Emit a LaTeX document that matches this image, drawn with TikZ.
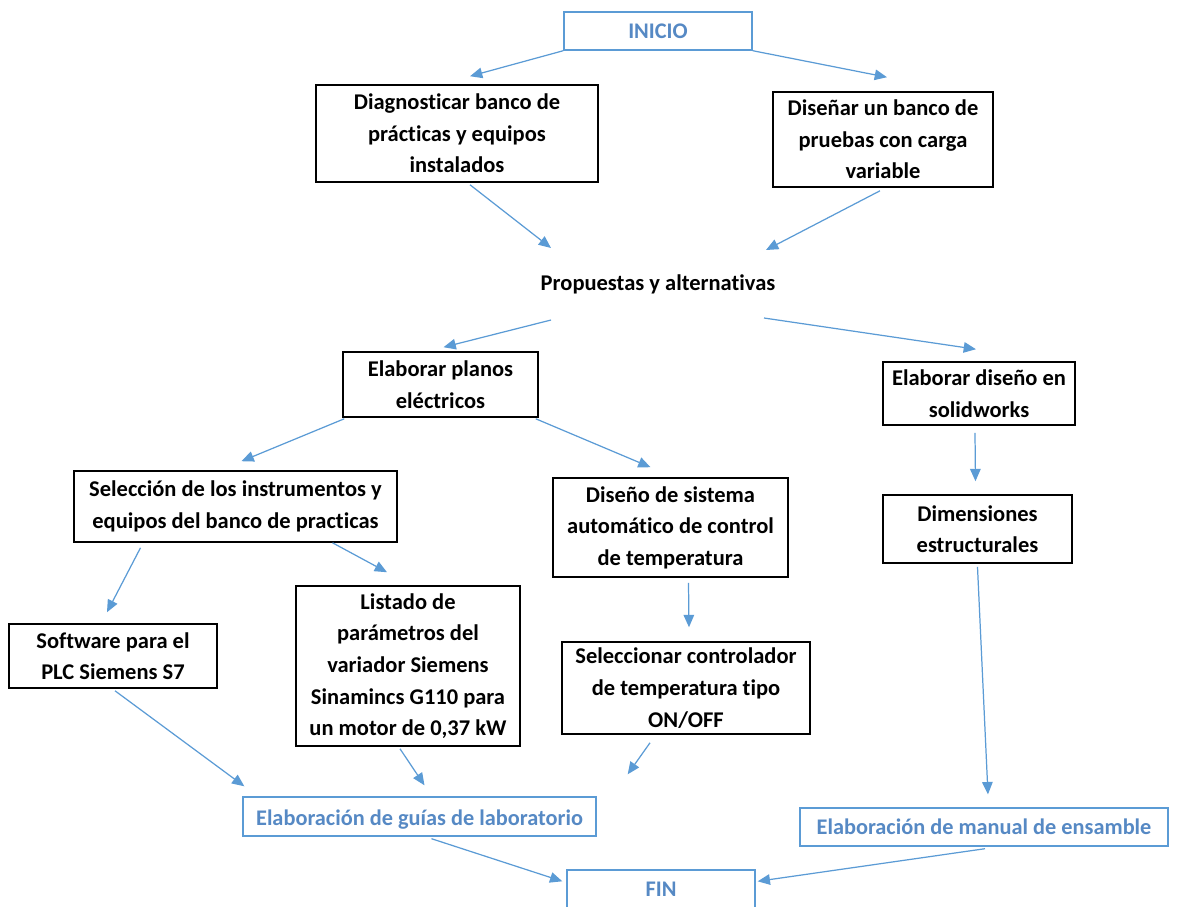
\documentclass[tikz,border=0pt]{standalone}
\usepackage{fontspec}
\setmainfont{Carlito}[Ligatures=NoCommon]
\usetikzlibrary{arrows.meta,calc}
\definecolor{azul}{RGB}{91,155,213}
\definecolor{azultexto}{RGB}{86,137,196}
\tikzset{
	caja/.style={draw=black, line width=0.9pt, align=center, inner sep=0pt, font=\bfseries\fontsize{12.8}{18}\selectfont},
	cajaazul/.style={draw=azul, line width=0.8pt, align=center, inner sep=0pt, text=azultexto, font=\bfseries\fontsize{12.7}{18}\selectfont},
	flecha/.style={draw=azul, line width=0.7pt, -{Triangle[length=7pt,width=6pt]}}
}
\begin{document}
\begin{tikzpicture}[x=0.02cm, y=-0.02cm]
	\useasboundingbox (0,0) rectangle (1178,907);
	\clip (0,0) rectangle (1178,907);
	\node[cajaazul, minimum width=3.76cm, minimum height=0.76cm] (inicio) at (658,31) {INICIO};
	\node[caja, minimum width=5.64cm, minimum height=1.94cm] (diag) at (457,133.5) {Diagnosticar banco de\\prácticas y equipos\\instalados};
	\node[caja, minimum width=4.4cm, minimum height=1.9cm] (disenar) at (883,139.5) {Diseñar un banco de\\pruebas con carga\\variable};
	\node[font=\bfseries\fontsize{12.8}{18}\selectfont] (prop) at (658,284) {Propuestas y alternativas};
	\node[caja, minimum width=3.9cm, minimum height=1.3cm] (planos) at (440.5,384.5) {Elaborar planos\\eléctricos};
	\node[caja, minimum width=3.84cm, minimum height=1.26cm] (solid) at (979,393.5) {Elaborar diseño en\\solidworks};
	\node[caja, minimum width=6.46cm, minimum height=1.42cm] (selec) at (235.5,506.5) {Selección de los instrumentos y\\equipos del banco de practicas};
	\node[caja, minimum width=4.7cm, minimum height=1.98cm] (sistema) at (670.5,527.5) {Diseño de sistema\\automático de control\\de temperatura};
	\node[caja, minimum width=3.78cm, minimum height=1.36cm] (dimen) at (977.5,529) {Dimensiones\\estructurales};
	\node[caja, minimum width=4.16cm, minimum height=1.28cm] (software) at (113,656) {Software para el\\PLC Siemens S7};
	\node[caja, minimum width=4.48cm, minimum height=3.2cm] (listado) at (408,666) {Listado de\\parámetros del\\variador Siemens\\Sinamincs G110 para\\un motor de 0,37 kW};
	\node[caja, minimum width=4.96cm, minimum height=1.84cm] (selcon) at (686,688) {Seleccionar controlador\\de temperatura tipo\\ON/OFF};
	\node[cajaazul, minimum width=7.06cm, minimum height=0.78cm, text height=12pt] (guias) at (419.5,816.5) {Elaboración de guías de laboratorio};
	\node[cajaazul, minimum width=7.36cm, minimum height=0.76cm] (manual) at (984,827) {Elaboración de manual de ensamble};
	\node[cajaazul, minimum width=3.76cm, minimum height=0.76cm] (fin) at (661,889) {FIN};
	\draw[flecha] (inicio.south west) -- ($(diag.north)+(13,-8)$);
	\draw[flecha] (inicio.south east) -- ($(disenar.north)+(4,-14)$);
	\draw[flecha] ($(diag.south)+(13,2)$) -- ($(prop.center)+(-107,-36)$);
	\draw[flecha] ($(disenar.south)+(-3,3)$) -- ($(prop.center)+(108,-34)$);
	\draw[flecha] ($(prop.center)+(-107,36)$) -- ($(planos.north)+(3,-4)$);
	\draw[flecha] ($(prop.center)+(106,34)$) -- ($(solid.north)+(-3,-12)$);
	\draw[flecha] ($(planos.south west)+(2,1)$) -- ($(selec.north)+(6,-9)$);
	\draw[flecha] ($(planos.south east)+(-3,1)$) -- ($(sistema.north)+(-20,-10)$);
	\draw[flecha] ($(solid.south)+(-4,7)$) -- ($(dimen.north)+(-2,-13)$);
	\draw[flecha] ($(selec.south)+(-95,5)$) -- ($(software.north)+(-6,-11)$);
	\draw[flecha] ($(selec.south)+(97,0)$) -- ($(listado.north)+(-21,-13)$);
	\draw[flecha] ($(sistema.south)+(18,5)$) -- ($(selcon.north)+(3,-14)$);
	\draw[flecha] ($(software.south)+(2,2)$) -- ($(guias.north west)+(2,-10)$);
	\draw[flecha] ($(listado.south)+(-8,2)$) -- ($(guias.north)+(5,-11)$);
	\draw[flecha] ($(selcon.south)+(-36,8)$) -- ($(guias.north east)+(31,-22)$);
	\draw[flecha] ($(dimen.south)+(0,3)$) -- ($(manual.north)+(4,-13)$);
	\draw[flecha] ($(guias.south)+(12,2)$) -- ($(fin.north west)+(-4,12)$);
	\draw[flecha] ($(manual.south)+(1,2)$) -- ($(fin.north east)+(2,12)$);
\end{tikzpicture}
\end{document}
